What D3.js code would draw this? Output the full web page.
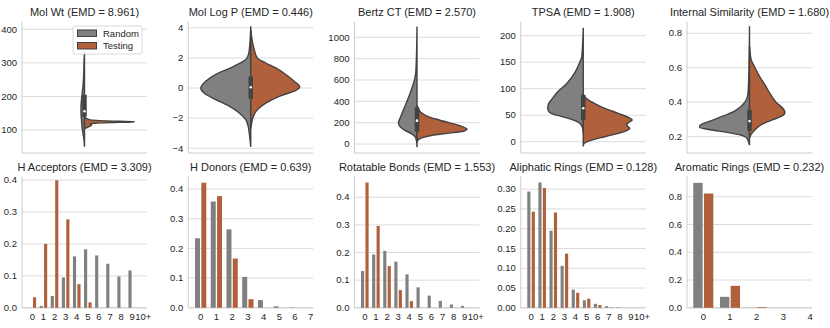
<!DOCTYPE html>
<html lang="en">
<head>
<meta charset="UTF-8">
<title>Random vs Testing property distributions</title>
<script src="https://cdn.jsdelivr.net/npm/d3@7"></script>
<style>
  body { margin: 0; background: #fff; }
  svg { font-family: "Liberation Sans", Arial, sans-serif; }
  .tick-label { font-size: 9.5px; fill: #262626; }
  .title { font-size: 11px; fill: #262626; text-anchor: middle; }
  .grid line { stroke: #dcdcdc; stroke-width: 1; }
  .spine { stroke: #cccccc; stroke-width: 1; }
</style>
</head>
<body>
<svg id="chart" width="830" height="328"></svg>
<script>
// colours of the two sets
var randomColor = "#808080", testingColor = "#b0603a", edgeColor = "#424242";

// ---- violin panels: [value, relative half width] ----
var violinTitles = ["Mol Wt (EMD = 8.961)", "Mol Log P (EMD = 0.446)", "Bertz CT (EMD = 2.570)",
                    "TPSA (EMD = 1.908)", "Internal Similarity (EMD = 1.680)"];

var molWtRandom = [[50,0],[70,0.01],[90,0.03],[110,0.05],[130,0.06],[150,0.07],[170,0.07],[190,0.06],
                   [210,0.045],[240,0.025],[270,0.015],[300,0.01],[335,0]];
var molWtTesting = [[104,0],[108,0.06],[112,0.12],[115,0.14],[118,0.11],[120,0.2],[122,0.5],[124,0.95],
                    [125,1.0],[126,0.7],[128,0.3],[130,0.12],[133,0.06],[137,0.02],[142,0]];
var logPRandom = [[4.1,0],[2.5,0.03],[2.0,0.07],[1.45,0.33],[0.9,0.7],[0.45,0.9],[0,1.0],[-0.35,0.93],
                  [-0.77,0.7],[-1.2,0.43],[-1.66,0.23],[-2.1,0.1],[-2.55,0.05],[-3,0.03],[-3.9,0]];
var logPTesting = [[3.9,0],[2.55,0.07],[2.0,0.13],[1.66,0.3],[1.33,0.5],[0.9,0.7],[0.45,0.87],[0.07,0.98],
                   [-0.15,0.9],[-0.55,0.57],[-1.0,0.3],[-1.45,0.13],[-1.9,0.05],[-2.3,0.02],[-2.7,0]];
var bertzRandom = [[1100,0],[700,0.02],[600,0.05],[500,0.12],[400,0.2],[300,0.29],[250,0.33],[200,0.37],
                   [170,0.35],[130,0.25],[100,0.12],[70,0.04],[30,0.01],[-30,0]];
var bertzTesting = [[360,0],[330,0.03],[300,0.07],[260,0.21],[230,0.41],[200,0.64],[175,0.84],[150,0.97],
                    [140,1.0],[120,0.93],[100,0.6],[80,0.28],[60,0.11],[40,0.03],[20,0]];
var tpsaRandom = [[215,0],[160,0.03],[150,0.07],[130,0.17],[110,0.33],[95,0.5],[80,0.63],[70,0.7],[62,0.71],
                  [55,0.67],[50,0.53],[45,0.33],[40,0.17],[35,0.07],[25,0.01],[15,0]];
var tpsaTesting = [[91,0],[85,0.03],[79,0.1],[72,0.23],[63,0.43],[53.5,0.7],[46,0.9],[41,0.98],[36,0.9],
                   [31,0.87],[25,0.93],[20.8,0.87],[15.7,0.7],[9.4,0.43],[3,0.17],[-4.4,0.01],[-9,0]];
var simRandom = [[0.84,0],[0.6,0.01],[0.45,0.03],[0.4,0.09],[0.35,0.29],[0.32,0.52],[0.29,0.79],
                 [0.265,0.99],[0.255,1.0],[0.24,0.79],[0.225,0.45],[0.21,0.19],[0.19,0.05],[0.15,0]];
var simTesting = [[0.72,0.005],[0.65,0.03],[0.6,0.11],[0.55,0.2],[0.5,0.31],[0.45,0.41],[0.4,0.53],
                  [0.36,0.68],[0.34,0.71],[0.32,0.65],[0.3,0.48],[0.28,0.31],[0.26,0.19],[0.24,0.11],
                  [0.22,0.05],[0.2,0.01],[0.19,0]];

// inner box: [q1, median, q3]
var molWtBox = [140, 156, 205];
var logPBox = [-0.7, 0.05, 0.77];
var bertzBox = [116, 219, 344];
var tpsaBox = [41, 63, 88];
var simBox = [0.233, 0.29, 0.355];

var violinTicks = [[100, 200, 300, 400], [-4, -2, 0, 2, 4], [0, 200, 400, 600, 800, 1000],
                   [0, 50, 100, 150, 200], [0.2, 0.4, 0.6, 0.8]];

// ---- bar panels ----
var barTitles = ["H Acceptors (EMD = 3.309)", "H Donors (EMD = 0.639)", "Rotatable Bonds (EMD = 1.553)",
                 "Aliphatic Rings (EMD = 0.128)", "Aromatic Rings (EMD = 0.232)"];
var cats11 = ["0", "1", "2", "3", "4", "5", "6", "7", "8", "9", "10+"];
var cats8 = ["0", "1", "2", "3", "4", "5", "6", "7"];
var cats5 = ["0", "1", "2", "3", "4"];

var hAccRandom = [0, 0.006, 0.037, 0.095, 0.161, 0.183, 0.164, 0.138, 0.098, 0.117, 0];
var hAccTesting = [0.033, 0.2, 0.399, 0.277, 0.074, 0.017, 0, 0, 0, 0, 0];
var hDonRandom = [0.234, 0.358, 0.264, 0.104, 0.026, 0.005, 0.001, 0];
var hDonTesting = [0.421, 0.376, 0.166, 0.029, 0, 0, 0, 0];
var rotRandom = [0.133, 0.193, 0.206, 0.167, 0.121, 0.074, 0.044, 0.025, 0.012, 0.007, 0];
var rotTesting = [0.453, 0.296, 0.151, 0.064, 0.024, 0, 0, 0, 0, 0, 0];
var aliRandom = [0.294, 0.317, 0.195, 0.106, 0.046, 0.019, 0.01, 0.004, 0.001, 0, 0];
var aliTesting = [0.243, 0.303, 0.241, 0.137, 0.038, 0.023, 0.007, 0.001, 0, 0, 0];
var aroRandom = [0.9, 0.079, 0.001, 0, 0];
var aroTesting = [0.823, 0.158, 0.005, 0, 0];

var barTicks = [[0, 0.1, 0.2, 0.3, 0.4], [0, 0.1, 0.2, 0.3, 0.4], [0, 0.1, 0.2, 0.3, 0.4],
                [0, 0.05, 0.1, 0.15, 0.2, 0.25, 0.3], [0, 0.2, 0.4, 0.6, 0.8]];

// ---- layout ----
var axW = 125, axH = 131.3, left0 = 22, colStep = 166.25;
var rowTop = [21.7, 176.5];

var violins = [
  {r: molWtRandom, t: molWtTesting, box: molWtBox, y: [31.5, 422.6], fmt: d3.format("d")},
  {r: logPRandom, t: logPTesting, box: logPBox, y: [-4.31, 4.4], fmt: d3.format("d")},
  {r: bertzRandom, t: bertzTesting, box: bertzBox, y: [-84, 1146], fmt: d3.format("d")},
  {r: tpsaRandom, t: tpsaTesting, box: tpsaBox, y: [-21.3, 226.4], fmt: d3.format("d")},
  {r: simRandom, t: simTesting, box: simBox, y: [0.105, 0.867], fmt: d3.format(".1f")}
];
var bars = [
  {cats: cats11, r: hAccRandom, t: hAccTesting, y: [0, 0.411], x: [-0.93, 10.33], fmt: d3.format(".1f")},
  {cats: cats8, r: hDonRandom, t: hDonTesting, y: [0, 0.442], x: [-0.79, 7.16], fmt: d3.format(".1f")},
  {cats: cats11, r: rotRandom, t: rotTesting, y: [0, 0.475], x: [-0.93, 10.33], fmt: d3.format(".1f")},
  {cats: cats11, r: aliRandom, t: aliTesting, y: [0, 0.332], x: [-0.93, 10.33], fmt: d3.format(".2f")},
  {cats: cats5, r: aroRandom, t: aroTesting, y: [0, 0.9456], x: [-0.61, 4.07], fmt: d3.format(".1f")}
];

var svg = d3.select("#chart");

function frame(g, y, ticks, fmt, title) {
  var grid = g.append("g").attr("class", "grid");
  grid.selectAll("line").data(ticks).enter().append("line")
      .attr("x1", 0).attr("x2", axW)
      .attr("y1", function(d) { return y(d); }).attr("y2", function(d) { return y(d); });
  g.selectAll(".ytick").data(ticks).enter().append("text")
      .attr("class", "tick-label")
      .attr("x", -5).attr("y", function(d) { return y(d); })
      .attr("dy", "0.34em").attr("text-anchor", "end")
      .text(function(d) { return fmt(d).replace("-", "\u2212"); });
  g.append("line").attr("class", "spine").attr("x1", 0).attr("x2", 0).attr("y1", 0).attr("y2", axH);
  g.append("line").attr("class", "spine").attr("x1", 0).attr("x2", axW).attr("y1", axH).attr("y2", axH);
  g.append("text").attr("class", "title").attr("x", axW / 2).attr("y", -5.7).text(title);
}

// violins
violins.forEach(function(p, i) {
  var g = svg.append("g").attr("transform", "translate(" + (left0 + i * colStep) + "," + rowTop[0] + ")");
  var y = d3.scaleLinear().domain(p.y).range([axH, 0]);
  var x = d3.scaleLinear().domain([-0.5, 0.5]).range([0, axW]);
  frame(g, y, violinTicks[i], p.fmt, violinTitles[i]);

  var half = function(side) {
    return d3.area().curve(d3.curveMonotoneY)
      .y(function(d) { return y(d[0]); })
      .x0(x(0))
      .x1(function(d) { return x(side * 0.4 * d[1]); });
  };
  g.append("path").datum(p.r).attr("d", half(-1))
    .attr("fill", randomColor).attr("stroke", edgeColor).attr("stroke-width", 1.4);
  g.append("path").datum(p.t).attr("d", half(1))
    .attr("fill", testingColor).attr("stroke", edgeColor).attr("stroke-width", 1.4);

  // inner box
  g.append("line").attr("x1", x(0)).attr("x2", x(0))
    .attr("y1", y(p.box[0])).attr("y2", y(p.box[2]))
    .attr("stroke", edgeColor).attr("stroke-width", 4.5);
  g.append("circle").attr("cx", x(0)).attr("cy", y(p.box[1])).attr("r", 1.3).attr("fill", "#fff");
});

// bars
bars.forEach(function(p, i) {
  var g = svg.append("g").attr("transform", "translate(" + (left0 + i * colStep) + "," + rowTop[1] + ")");
  var y = d3.scaleLinear().domain(p.y).range([axH, 0]);
  var x = d3.scaleLinear().domain(p.x).range([0, axW]);
  frame(g, y, barTicks[i], p.fmt, barTitles[i]);
  var w = 0.4, gap = 0.65;

  g.selectAll(".rnd").data(p.r).enter().append("rect")
    .attr("x", function(d, k) { return x(k - w) + gap; })
    .attr("width", x(w) - x(0) - 2 * gap)
    .attr("y", function(d) { return y(d); })
    .attr("height", function(d) { return y(0) - y(d); })
    .attr("fill", randomColor);
  g.selectAll(".tst").data(p.t).enter().append("rect")
    .attr("x", function(d, k) { return x(k) + gap; })
    .attr("width", x(w) - x(0) - 2 * gap)
    .attr("y", function(d) { return y(d); })
    .attr("height", function(d) { return y(0) - y(d); })
    .attr("fill", testingColor);

  g.selectAll(".xtick").data(p.cats).enter().append("text")
    .attr("class", "tick-label")
    .attr("x", function(d, k) { return x(k); })
    .attr("y", axH + 12)
    .attr("text-anchor", "middle")
    .text(function(d) { return d; });
});

// legend in the first panel
var leg = svg.append("g").attr("transform", "translate(73,26)");
leg.append("rect").attr("width", 69).attr("height", 28).attr("rx", 2)
  .attr("fill", "#fff").attr("fill-opacity", 0.85).attr("stroke", "#d0d0d0").attr("stroke-width", 0.8);
[["Random", randomColor], ["Testing", testingColor]].forEach(function(e, k) {
  leg.append("rect").attr("x", 4.5).attr("y", 4 + k * 12.5).attr("width", 19).attr("height", 6.5)
    .attr("fill", e[1]).attr("stroke", edgeColor).attr("stroke-width", 1);
  leg.append("text").attr("class", "tick-label").attr("x", 30).attr("y", 7.3 + k * 12.5)
    .attr("dy", "0.34em").text(e[0]);
});
</script>
</body>
</html>
